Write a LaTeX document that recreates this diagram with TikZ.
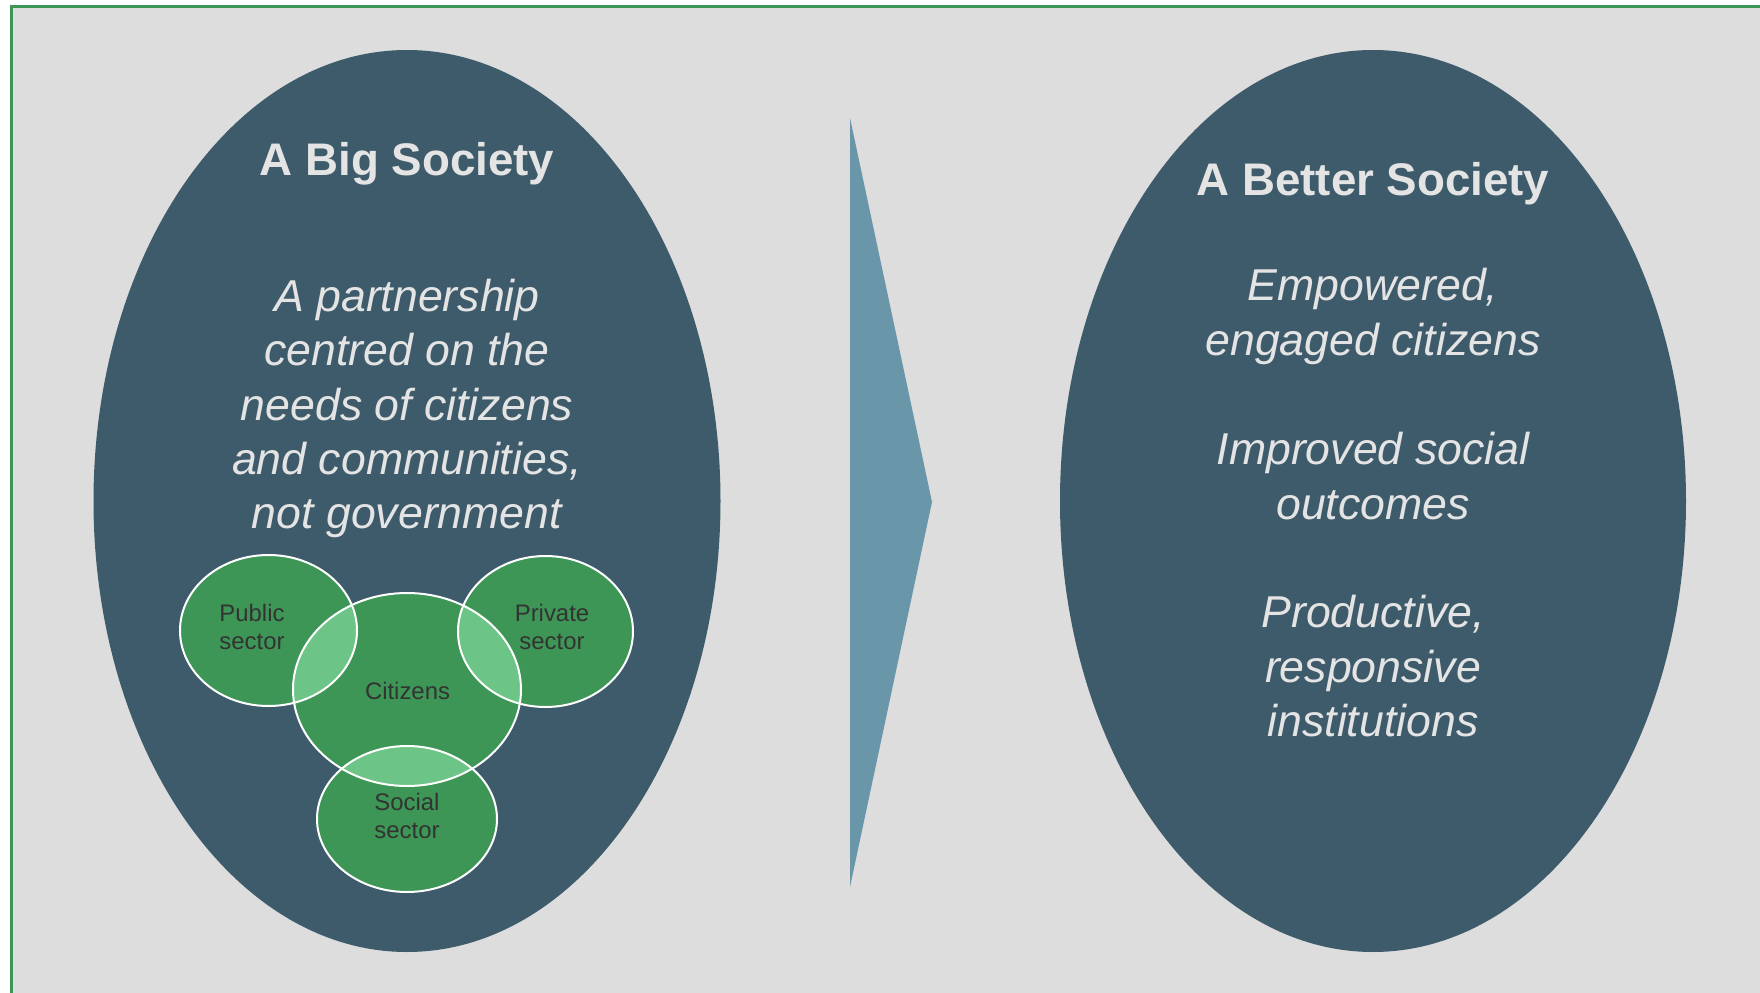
\documentclass[tikz,border=0pt]{standalone}
\usepackage{fontspec}
\setmainfont{Liberation Sans}
\usepackage{xcolor}
\usepackage{tikz}

\definecolor{bggray}{HTML}{DDDDDD}
\definecolor{slate}{HTML}{3E5B6B}
\definecolor{arrowblue}{HTML}{6A96AA}
\definecolor{venngreen}{HTML}{3D9655}
\definecolor{lensgreen}{HTML}{6DC487}
\definecolor{framegreen}{HTML}{3D9655}
\definecolor{paletext}{HTML}{E4E4E4}
\definecolor{venntext}{HTML}{333333}

\begin{document}
\begin{tikzpicture}[
    heading/.style={text=paletext, anchor=base, font=\fontsize{13}{15.6}\selectfont\bfseries},
    bodytext/.style={text=paletext, align=center, font=\fontsize{12.7}{15.5}\selectfont\itshape},
    venntag/.style={text=venntext, align=center, font=\fontsize{6.8}{8}\selectfont},
    vennline/.style={draw=white, line width=0.02cm}]
                            \useasboundingbox (0,0) rectangle (17.6,-9.93);
                            \clip (0,0) rectangle (17.6,-9.93);
                            \filldraw[fill=bggray, draw=framegreen, line width=0.035cm] (0.115,-0.065) rectangle (17.9,-10.2);

                            \fill[slate] (4.07,-5.01) ellipse [x radius=3.135, y radius=4.51];
                            \fill[slate] (13.73,-5.01) ellipse [x radius=3.13, y radius=4.51];
                            \fill[arrowblue] (8.50,-1.18) -- (9.32,-5.02) -- (8.50,-8.87) -- cycle;

                            \node (0) at (4.07,-1.76) [heading] {A Big Society};
                            \node (1) at (4.07,-4.085) [bodytext] {A partnership\\centred on the\\needs of citizens\\and communities,\\not government};
                            \node (2) at (13.73,-1.95) [heading] {A Better Society};
                            \node (3) at (13.73,-3.165) [bodytext] {Empowered,\\engaged citizens};
                            \node (4) at (13.73,-4.76) [bodytext] {Improved social\\outcomes};
                            \node (5) at (13.73,-6.665) [bodytext] {Productive,\\responsive\\institutions};

                            \fill[venngreen] (2.685,-6.305) ellipse [x radius=0.885, y radius=0.755];
                            \fill[venngreen] (5.455,-6.315) ellipse [x radius=0.875, y radius=0.755];
                            \fill[venngreen] (4.07,-6.895) ellipse [x radius=1.14, y radius=0.965];
                            \fill[venngreen] (4.07,-8.19) ellipse [x radius=0.90, y radius=0.73];
                            \begin{scope}
                                \clip (4.07,-6.895) ellipse [x radius=1.14, y radius=0.965];
                                \fill[lensgreen] (2.685,-6.305) ellipse [x radius=0.885, y radius=0.755];
                                \fill[lensgreen] (5.455,-6.315) ellipse [x radius=0.875, y radius=0.755];
                                \fill[lensgreen] (4.07,-8.19) ellipse [x radius=0.90, y radius=0.73];
                            \end{scope}
                            \draw[vennline] (2.685,-6.305) ellipse [x radius=0.885, y radius=0.755];
                            \draw[vennline] (5.455,-6.315) ellipse [x radius=0.875, y radius=0.755];
                            \draw[vennline] (4.07,-6.895) ellipse [x radius=1.14, y radius=0.965];
                            \draw[vennline] (4.07,-8.19) ellipse [x radius=0.90, y radius=0.73];

                            \node (6) at (2.52,-6.27) [venntag] {Public\\sector};
                            \node (7) at (5.52,-6.27) [venntag] {Private\\sector};
                            \node (8) at (4.075,-6.905) [venntag] {Citizens};
                            \node (9) at (4.07,-8.16) [venntag] {Social\\sector};
                        \end{tikzpicture}
\end{document}
